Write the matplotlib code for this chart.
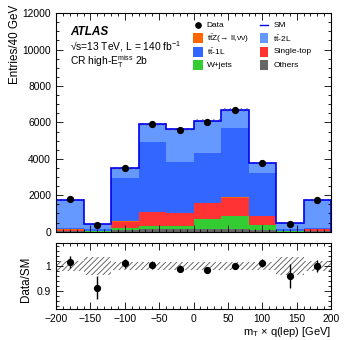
import numpy as np
import matplotlib
matplotlib.use("Agg")
import matplotlib.pyplot as plt
from matplotlib.patches import Rectangle
from matplotlib.ticker import MultipleLocator, FormatStrFormatter

plt.rcParams['font.family'] = ['Liberation Sans', 'DejaVu Sans']
plt.rcParams['hatch.linewidth'] = 0.6
plt.rcParams['mathtext.fontset'] = 'custom'
plt.rcParams['mathtext.rm'] = 'Liberation Sans'
plt.rcParams['mathtext.it'] = 'Liberation Sans:italic'

bin_edges = [-200, -160, -120, -80, -40, 0, 40, 80, 120, 160, 200]
others = [30, 10, 80, 150, 150, 150, 150, 100, 10, 30]
wjets = [20, 10, 110, 170, 170, 540, 720, 270, 10, 20]
single_top = [70, 40, 370, 740, 680, 890, 1000, 500, 40, 80]
ttz = [5, 2, 10, 15, 15, 15, 15, 10, 2, 5]
tt1l = [60, 60, 2400, 3840, 2820, 2740, 3820, 2330, 60, 60]
tt2l = [1575, 288, 500, 970, 1800, 1760, 990, 550, 330, 1565]
data = [1786, 375, 3505, 5909, 5574, 5999, 6700, 3798, 434, 1760]
sm_unc_rel = [0.021, 0.035, 0.017, 0.015, 0.015, 0.015, 0.015, 0.017, 0.035, 0.021]

C_OTH, C_WJ, C_ST, C_TTZ, C_1L, C_2L, C_SM = ('#666666', '#33cc33', '#ff3333',
                                              '#ff6600', '#3366ff', '#6699ff', '#0000ee')

edges = np.array(bin_edges, dtype=float)
centers = 0.5 * (edges[:-1] + edges[1:])
comps = [(others, C_OTH), (wjets, C_WJ), (single_top, C_ST), (ttz, C_TTZ),
         (tt1l, C_1L), (tt2l, C_2L)]

fig = plt.figure(figsize=(3.49, 3.40), dpi=100)
ax = fig.add_axes([0.1605, 0.3185, 0.788, 0.643])
rax = fig.add_axes([0.1605, 0.0912, 0.788, 0.1941])

bottom = np.zeros(len(centers))
for vals, col in comps:
    v = np.array(vals, dtype=float)
    ax.bar(edges[:-1], v, width=np.diff(edges), bottom=bottom, align='edge',
           color=col, edgecolor='none', linewidth=0)
    bottom = bottom + v
total = bottom
unc = total * np.array(sm_unc_rel)

ax.stairs(total + unc, edges, baseline=total - unc, fill=True, facecolor='none',
          edgecolor='#777777', hatch='//////', linewidth=0)
ax.stairs(total, edges, color=C_SM, linewidth=1.2, baseline=None)
ax.vlines([edges[0]], 0, total[0], color=C_SM, linewidth=1.2)
ax.vlines([edges[-1]], 0, total[-1], color=C_SM, linewidth=1.2)

d = np.array(data, dtype=float)
ax.errorbar(centers, d, yerr=np.sqrt(d), fmt='o', color='black', markersize=4.2,
            elinewidth=1, capsize=0)

ax.set_xlim(-200, 200)
ax.set_ylim(0, 12000)
ax.set_xticklabels([])
ax.xaxis.set_major_locator(MultipleLocator(50))
ax.xaxis.set_minor_locator(MultipleLocator(10))
ax.yaxis.set_major_locator(MultipleLocator(2000))
ax.yaxis.set_minor_locator(MultipleLocator(500))
ax.set_ylabel('Entries/40 GeV', fontsize=8.4, loc='top')
ax.yaxis.set_label_coords(-0.128, 1.04)

for a in (ax, rax):
    a.tick_params(which='both', direction='in', top=True, right=True, labelsize=7.4)
    a.tick_params(which='major', length=5, width=0.6)
    a.tick_params(which='minor', length=2.5, width=0.6)
    for s in a.spines.values():
        s.set_linewidth(0.8)

ax.text(0.051, 0.913, 'ATLAS', transform=ax.transAxes, fontsize=8.5,
        fontweight='bold', fontstyle='italic', va='center')
ax.text(0.051, 0.845, '\u221as=13 TeV, L = 140 fb$^{-1}$', transform=ax.transAxes,
        fontsize=7.4, va='center')
ax.text(0.051, 0.776, r'CR high-E$_{\rm T}^{\rm miss}$ 2b', transform=ax.transAxes,
        fontsize=7.4, va='center')

# manual legend
leg_rows = [0.945, 0.884, 0.823, 0.762]
col_patch = [(0.4993, 0.5356, 0.548), (0.7418, 0.7720, 0.790)]
ph = 0.046
entries = [
    (0, 0, 'marker', 'black', 'Data'),
    (0, 1, 'patch', C_TTZ, 't$\\bar{\\rm t}$Z(\u2192 ll,\u03bd\u03bd)'),
    (0, 2, 'patch', C_1L, r't$\bar{\rm t}$-1L'),
    (0, 3, 'patch', C_WJ, 'W+jets'),
    (1, 0, 'line', C_SM, 'SM'),
    (1, 1, 'patch', C_2L, r't$\bar{\rm t}$-2L'),
    (1, 2, 'patch', C_ST, 'Single-top'),
    (1, 3, 'patch', C_OTH, 'Others'),
]
for c, r, kind, col, lab in entries:
    x0, x1, xt = col_patch[c]
    y = leg_rows[r]
    if kind == 'patch':
        ax.add_patch(Rectangle((x0, y - ph / 2), x1 - x0, ph, transform=ax.transAxes,
                               facecolor=col, edgecolor='none'))
    elif kind == 'marker':
        ax.plot([(x0 + x1) / 2], [y], 'o', color=col, markersize=3.8,
                transform=ax.transAxes)
    else:
        ax.plot([x0, x1], [y, y], color=col, linewidth=1.0, transform=ax.transAxes)
    ax.text(xt, y, lab, transform=ax.transAxes, fontsize=6.0, va='center')

ratio = d / total
ratio_err = np.sqrt(d) / total
rel = np.array(sm_unc_rel)
rax.stairs(1 + rel, edges, baseline=1 - rel, fill=True, facecolor='none',
           edgecolor='#555555', hatch='//////', linewidth=0)
rax.errorbar(centers, ratio, yerr=ratio_err, fmt='o', color='black', markersize=4.2,
             elinewidth=1, capsize=0)
rax.set_xlim(-200, 200)
rax.set_ylim(0.83, 1.09)
rax.xaxis.set_major_locator(MultipleLocator(50))
rax.xaxis.set_minor_locator(MultipleLocator(10))
rax.yaxis.set_major_locator(MultipleLocator(0.1))
rax.yaxis.set_minor_locator(MultipleLocator(0.02))
rax.yaxis.set_major_formatter(FormatStrFormatter('%g'))
rax.set_ylabel('Data/SM', fontsize=8.4)
rax.yaxis.set_label_coords(-0.087, 0.45)
rax.set_xlabel(r'm$_{\rm T}$ $\times$ q(lep) [GeV]', fontsize=8.0, loc='right', labelpad=1)

fig.savefig('out.png', dpi=100)
